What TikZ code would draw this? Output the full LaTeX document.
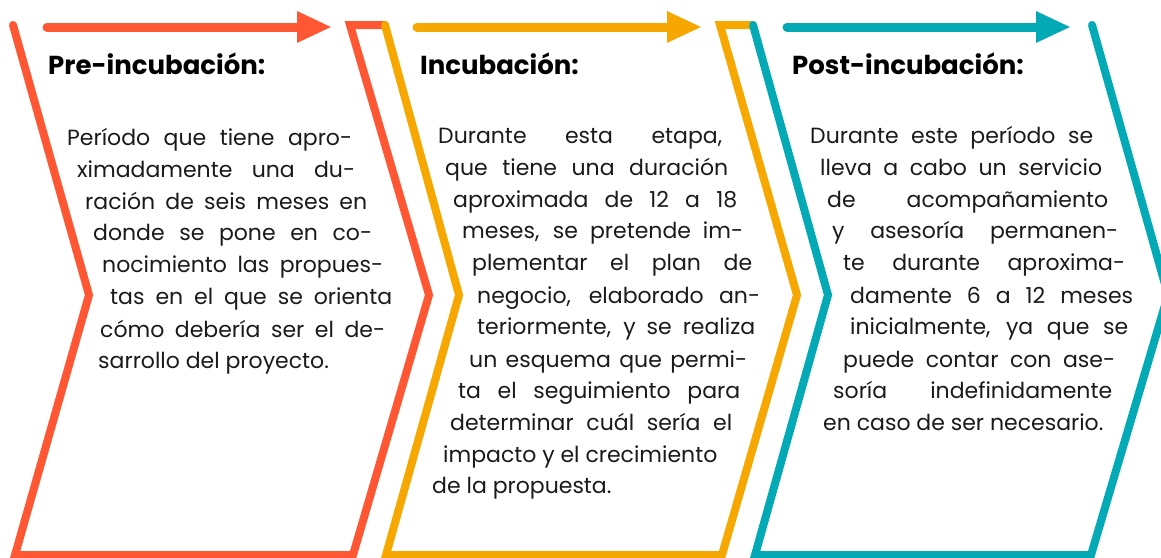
\documentclass[tikz,border=0pt]{standalone}
\usepackage{fontspec}
\setmainfont{Poppins}
\usetikzlibrary{arrows.meta}
\definecolor{cred}{HTML}{FF5733}
\definecolor{corange}{HTML}{F6A800}
\definecolor{cteal}{HTML}{03A9B5}
\definecolor{ctext}{HTML}{1A1A1A}
\newcommand{\jline}[5]{\node[bodytext] (#1) at (#2,#4) {\makebox[\dimexpr #3pt-#2pt\relax][s]{#5}};}
\newcommand{\nline}[4]{\node[bodytext] (#1) at (#2,#3) {#4};}
\begin{document}
\begin{tikzpicture}[x=1pt,y=-1pt,
  bodytext/.style={anchor=base west, inner sep=0pt, text=ctext, font=\fontsize{22}{26}\selectfont},
  titletext/.style={anchor=base west, inner sep=0pt, text=black, font=\fontsize{26}{30}\selectfont\bfseries},
  chev/.style={line width=8pt, line join=miter, line cap=round},
  toparrow/.style={line width=9pt, line cap=round, -{Triangle[length=35pt,width=29pt]}}]
\useasboundingbox (0,0) rectangle (1161,557);
% chevrons
\draw[chev, cred] (13,25) -- (89,295) -- (15,555) -- (353,555) -- (429,295) -- (350,25) -- (385,25);
\draw[chev, corange] (385,25) -- (459,295) -- (386,555) -- (722,555) -- (797,295) -- (720,25) -- (753,25);
\draw[chev, cteal] (753,25) -- (828,295) -- (755,555) -- (1091,555) -- (1168,295) -- (1092,25);
% arrows
\coordinate (a1s) at (47,27); \coordinate (a1e) at (332,27);
\coordinate (a2s) at (417,27); \coordinate (a2e) at (702,27);
\coordinate (a3s) at (787,27); \coordinate (a3e) at (1071,27);
\draw[toparrow, cred] (a1s) -- (a1e);
\draw[toparrow, corange] (a2s) -- (a2e);
\draw[toparrow, cteal] (a3s) -- (a3e);
% titles
\node[titletext] (t1) at (48,74) {Pre-incubación:};
\node[titletext] (t2) at (420,74) {Incubación:};
\node[titletext] (t3) at (792,74) {Post-incubación:};
% column 1
\jline{a1}{67}{352}{145}{Período que tiene apro-}
\jline{a2}{77}{355}{177}{ximadamente una du-}
\jline{a3}{85}{367}{209}{ración de seis meses en}
\jline{a4}{93}{372}{240}{donde se pone en co-}
\jline{a5}{102}{383}{272}{nocimiento las propues-}
\jline{a6}{110}{392}{304}{tas en el que se orienta}
\jline{a7}{100}{385}{337}{cómo debería ser el de-}
\nline{a8}{98}{368}{sarrollo del proyecto.}
% column 2
\jline{b1}{438}{722}{143}{Durante esta etapa,}
\jline{b2}{445}{728}{175}{que tiene una duración}
\jline{b3}{453}{737}{207}{aproximada de 12 a 18}
\jline{b4}{462}{743}{238}{meses, se pretende im-}
\jline{b5}{472}{752}{270}{plementar el plan de}
\jline{b6}{477}{760}{303}{negocio, elaborado an-}
\jline{b7}{477}{755}{334}{teriormente, y se realiza}
\jline{b8}{469}{747}{367}{un esquema que permi-}
\jline{b9}{458}{740}{398}{ta el seguimiento para}
\jline{b10}{450}{732}{430}{determinar cuál sería el}
\nline{b11}{443}{462}{impacto y el crecimiento}
\nline{b12}{432}{493}{de la propuesta.}
% column 3
\jline{c1}{810}{1093}{143}{Durante este período se}
\jline{c2}{820}{1102}{175}{lleva a cabo un servicio}
\jline{c3}{827}{1108}{207}{de acompañamiento}
\jline{c4}{832}{1118}{238}{y asesoría permanen-}
\jline{c5}{843}{1125}{270}{te durante aproxima-}
\jline{c6}{850}{1133}{303}{damente 6 a 12 meses}
\jline{c7}{850}{1128}{334}{inicialmente, ya que se}
\jline{c8}{843}{1115}{367}{puede contar con ase-}
\jline{c9}{833}{1112}{398}{soría indefinidamente}
\nline{c10}{823}{430}{en caso de ser necesario.}
\end{tikzpicture}
\end{document}
